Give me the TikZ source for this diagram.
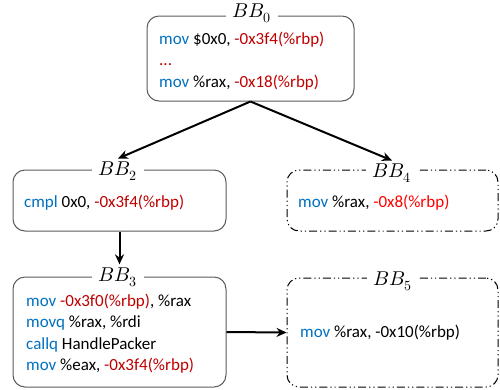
\documentclass[tikz,border=0pt]{standalone}
\usepackage{fontspec}
\usepackage{unicode-math}
\setmainfont{Carlito}
\setmathfont{Latin Modern Math}
\usetikzlibrary{arrows.meta}
\definecolor{cblue}{RGB}{0,112,192}
\definecolor{cred}{RGB}{192,0,0}
\definecolor{bred}{RGB}{255,0,0}
\definecolor{cgray}{RGB}{90,90,90}
\tikzset{
  bbsolid/.style={draw=cgray, line width=1pt, rounded corners=12pt, inner sep=0pt},
  bbdash/.style={draw=black, line width=1pt, rounded corners=12pt, inner sep=0pt,
     dash pattern=on 8pt off 3pt on 1.2pt off 3pt on 1.2pt off 3pt},
  bblabel/.style={fill=white, inner xsep=7pt, inner ysep=3pt, font=\fontsize{20}{22}\selectfont},
  code/.style={anchor=west, align=left, inner sep=0pt, font=\fontsize{17}{21.5}\selectfont},
  flow/.style={-{Stealth[length=10pt,width=9pt]}, line width=2pt, black}
}
\newcommand{\kw}[1]{\textcolor{cblue}{#1}}
\newcommand{\rd}[1]{\textcolor{cred}{#1}}
\begin{document}
\begin{tikzpicture}[x=1pt,y=-1pt]
\useasboundingbox (0,0) rectangle (500,389);
% boxes
\node[bbsolid, minimum width=207pt, minimum height=85pt] (bb0) at (250.5,58.5) {};
\node[bbsolid, minimum width=213pt, minimum height=61pt] (bb2) at (119.5,200.5) {};
\node[bbdash, minimum width=211pt, minimum height=61pt] (bb4) at (392.5,200.5) {};
\node[bbsolid, minimum width=213pt, minimum height=110pt] (bb3) at (119.5,332) {};
\node[bbdash, minimum width=211pt, minimum height=109pt] (bb5) at (392.5,332.5) {};
% labels
\node[bblabel] (l0) at (252,13) {$BB_0$};
\node[bblabel] (l2) at (118,171) {$BB_2$};
\node[bblabel] (l4) at (392,173) {$BB_4$};
\node[bblabel] (l3) at (118,277) {$BB_3$};
\node[bblabel] (l5) at (393,281) {$BB_5$};
% code
\node[code] (c0) at (159,61) {\kw{mov} \$0x0, \rd{-0x3f4(\%rbp)}\\ \rd{...}\\ \kw{mov} \%rax, \rd{-0x18(\%rbp)}};
\node[code] (c2) at (24,203) {\kw{cmpl} 0x0, \rd{-0x3f4(\%rbp)}};
\node[code] (c4) at (298,203) {\kw{mov} \%rax, \textcolor{bred}{-0x8(\%rbp)}};
\node[code] (c3) at (26,333.5) {\kw{mov} \rd{-0x3f0(\%rbp)}, \%rax\\ \kw{movq} \%rax, \%rdi\\ \kw{callq} HandlePacker\\ \kw{mov} \%eax, \rd{-0x3f4(\%rbp)}};
\node[code] (c5) at (300,333) {\kw{mov} \%rax, -0x10(\%rbp)};
% arrows
\draw[flow] (bb0.south) -- (l2.north);
\draw[flow] (bb0.south) -- (l4.north);
\draw[flow] (bb2.south) -- (bb2.south |- l3.north);
\draw[flow] (bb3.east) -- (bb5.west);
\end{tikzpicture}
\end{document}
